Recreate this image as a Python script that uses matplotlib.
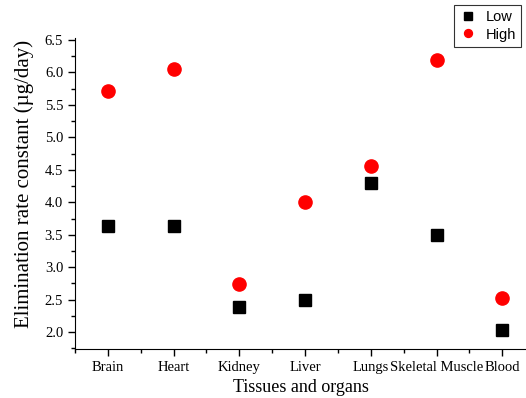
import matplotlib
matplotlib.use("Agg")
import matplotlib.pyplot as plt
from matplotlib.ticker import MultipleLocator

# tissue data
tissues = ["Brain", "Heart", "Kidney", "Liver", "Lungs", "Skeletal Muscle", "Blood"]
low = [3.63, 3.63, 2.38, 2.49, 4.29, 3.50, 2.03]
high = [5.72, 6.06, 2.74, 4.00, 4.56, 6.19, 2.53]
xpos = list(range(1, len(tissues) + 1))

plt.rcParams['font.family'] = ['Liberation Serif', 'DejaVu Serif']

fig = plt.figure(figsize=(5.26, 3.98), dpi=100)
ax = fig.add_axes([0.1426, 0.1231, 0.8574, 0.7814])

ax.plot(xpos, low, linestyle="none", marker="s", color="black", markersize=9, label="Low")
ax.plot(xpos, high, linestyle="none", marker="o", color="red", markersize=9.5, label="High")

ax.set_xlim(0.5, 7.36)
ax.set_ylim(1.74, 6.53)
ax.set_xticks(xpos)
ax.set_xticklabels(tissues, fontsize=10.5)
ax.xaxis.set_minor_locator(MultipleLocator(0.5))
ax.yaxis.set_major_locator(MultipleLocator(0.5))
ax.yaxis.set_minor_locator(MultipleLocator(0.25))
ax.tick_params(axis="y", labelsize=10.5)
ax.tick_params(which="major", length=5, width=1)
ax.tick_params(which="minor", length=3, width=1)

ax.spines["top"].set_visible(False)
ax.spines["right"].set_visible(False)

ax.set_xlabel("Tissues and organs", fontsize=13)
ax.set_ylabel("Elimination rate constant (\u00b5g/day)", fontsize=15)
ax.yaxis.set_label_coords(-0.09, 0.53)

leg = fig.legend(loc="upper right", bbox_to_anchor=(0.991, 0.988), borderaxespad=0,
                 frameon=True, fancybox=False, edgecolor="black", markerscale=0.6,
                 prop={"family": "Liberation Sans", "size": 10.5},
                 handletextpad=0.6, borderpad=0.35, labelspacing=0.25, handlelength=1.2)
leg.get_frame().set_linewidth(0.8)

plt.savefig("out.png", dpi=100)
